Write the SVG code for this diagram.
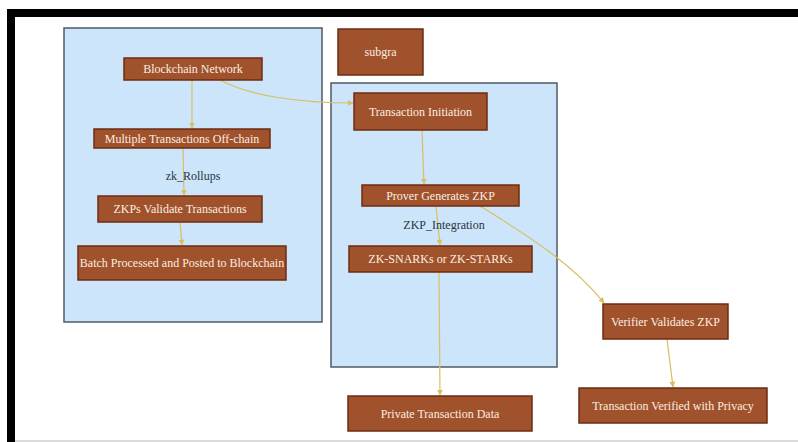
<svg xmlns="http://www.w3.org/2000/svg" width="798" height="442" viewBox="0 0 798 442">
<defs>
<style>
.cl{fill:#cce5fa;stroke:#4f5a66;stroke-width:1.5}
.nd rect{fill:#a0522d;stroke:#6e2d12;stroke-width:1.5}
.nd text{fill:#fbeee0;font-family:"Liberation Serif",serif;font-size:12px;text-anchor:middle;dominant-baseline:central}
.lb{fill:#2b3440;font-family:"Liberation Serif",serif;font-size:12px;text-anchor:middle;dominant-baseline:central}
.ed path{fill:none;stroke:#d9bf62;stroke-width:1.2;marker-end:url(#ah)}
</style>
<marker id="ah" viewBox="0 0 10 10" refX="9" refY="5" markerWidth="5" markerHeight="5" orient="auto"><path d="M0,0L10,5L0,10z" fill="#d9bf62"/></marker>
</defs>
<rect width="798" height="442" fill="#ffffff"/>
<rect x="7" y="9" width="791" height="8" fill="#000"/>
<rect x="7" y="9" width="8" height="433" fill="#000"/>
<line x1="15" y1="441" x2="798" y2="441" stroke="#cfcfcf" stroke-width="1.5"/>
<g id="cluster_zk_Rollups"><rect class="cl" x="64" y="28" width="258" height="294"/></g>
<g id="cluster_ZKP_Integration"><rect class="cl" x="331" y="83" width="226" height="284"/></g>
<g class="ed" id="connectors">
<path d="M192,80 L192,128"/>
<path d="M183,148 L184,195"/>
<path d="M180,222 L182,245"/>
<path d="M220,80 C250,96 300,103 353,103"/>
<path d="M422,130 L424,184"/>
<path d="M436,206 L440,245"/>
<path d="M480,206 C515,228 570,260 604,303"/>
<path d="M439,272 L440,395"/>
<path d="M667,339 L673,387"/>
</g>
<text class="lb" x="193" y="176">zk_Rollups</text>
<text class="lb" x="444" y="225">ZKP_Integration</text>
<g class="nd" id="subgra"><rect x="338" y="29" width="85" height="46"/><text x="380.5" y="52">subgra</text></g>
<g class="nd" id="blockchain_network"><rect x="124" y="58" width="138" height="22"/><text x="193" y="69">Blockchain Network</text></g>
<g class="nd" id="multiple_transactions"><rect x="94" y="129" width="176" height="19"/><text x="182" y="138.5">Multiple Transactions Off-chain</text></g>
<g class="nd" id="zkps_validate"><rect x="98" y="196" width="164" height="26"/><text x="180" y="209">ZKPs Validate Transactions</text></g>
<g class="nd" id="batch_processed"><rect x="78" y="246" width="208" height="34"/><text x="182" y="263">Batch Processed and Posted to Blockchain</text></g>
<g class="nd" id="transaction_initiation"><rect x="354" y="93" width="133" height="37"/><text x="420.5" y="111.5">Transaction Initiation</text></g>
<g class="nd" id="prover_generates"><rect x="362" y="185" width="157" height="21"/><text x="440.5" y="195.5">Prover Generates ZKP</text></g>
<g class="nd" id="zk_snarks"><rect x="349" y="246" width="183" height="26"/><text x="440.5" y="259">ZK-SNARKs or ZK-STARKs</text></g>
<g class="nd" id="private_data"><rect x="348" y="396" width="184" height="35"/><text x="440" y="413.5">Private Transaction Data</text></g>
<g class="nd" id="verifier_validates"><rect x="603" y="304" width="125" height="35"/><text x="665.5" y="321.5">Verifier Validates ZKP</text></g>
<g class="nd" id="transaction_verified"><rect x="579" y="388" width="188" height="35"/><text x="673" y="405.5">Transaction Verified with Privacy</text></g>
</svg>
